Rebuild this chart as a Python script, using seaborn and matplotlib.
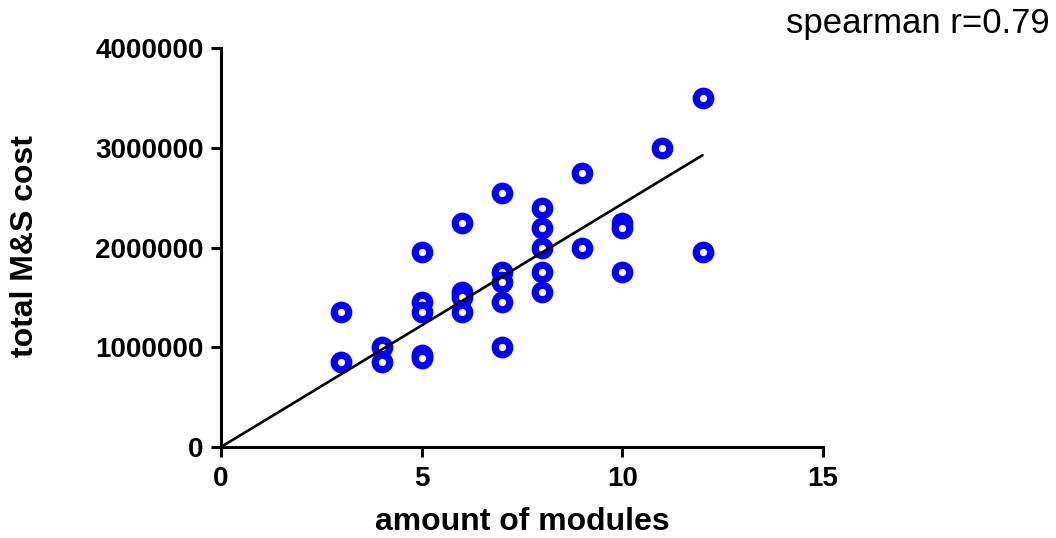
import numpy as np
import pandas as pd
import matplotlib
matplotlib.use("Agg")
import matplotlib.pyplot as plt
import seaborn as sns

modules = [3, 3, 4, 4, 5, 5, 5, 5, 5, 6, 6, 6, 6, 7, 7, 7, 7, 7,
           8, 8, 8, 8, 8, 9, 9, 10, 10, 10, 11, 12, 12]
cost = [1350000, 850000, 1000000, 850000,
        1950000, 1450000, 1350000, 925000, 890000,
        2250000, 1550000, 1500000, 1350000,
        2550000, 1750000, 1650000, 1450000, 1000000,
        2400000, 2200000, 2000000, 1750000, 1550000,
        2750000, 2000000,
        2250000, 2200000, 1750000,
        3000000,
        3500000, 1950000]
x_ticks = [0, 5, 10, 15]
y_ticks = [0, 1000000, 2000000, 3000000, 4000000]
annotation = "spearman r=0.79"

sns.set_style("ticks")
plt.rcParams['font.family'] = ['Liberation Sans', 'DejaVu Sans']
plt.rcParams.update({'text.color': 'black', 'axes.labelcolor': 'black',
                     'xtick.color': 'black', 'ytick.color': 'black',
                     'axes.edgecolor': 'black'})

df = pd.DataFrame({"modules": modules, "cost": cost})

fig = plt.figure(figsize=(10.56, 5.38), dpi=100)
ax = fig.add_axes([221/1056, 91/538, (823-221)/1056, (447-48)/538])

# regression through origin
xa = np.array(modules, dtype=float)
ya = np.array(cost, dtype=float)
slope = (xa * ya).sum() / (xa * xa).sum()
xl = np.array([0, max(modules)], dtype=float)
ax.plot(xl, slope * xl, color='black', lw=1.9, zorder=3)

sns.scatterplot(data=df, x="modules", y="cost", ax=ax, marker='o', s=110,
                facecolor='white', edgecolor='#0000ff', linewidth=5.2,
                zorder=2, legend=False)

ax.set_xlim(0, 15)
ax.set_ylim(0, 4000000)
ax.set_xticks(x_ticks)
ax.set_yticks(y_ticks)
ax.set_xticklabels([str(t) for t in x_ticks])
ax.set_yticklabels([str(t) for t in y_ticks])
for lab in ax.get_xticklabels() + ax.get_yticklabels():
    lab.set_fontweight('bold')
    lab.set_fontsize(20)
ax.tick_params(axis='both', direction='out', length=7.5, width=2.2)
ax.tick_params(axis='x', pad=6)
ax.tick_params(axis='y', pad=5)
for s in ['left', 'bottom']:
    ax.spines[s].set_linewidth(2.2)
sns.despine(ax=ax)

ax.set_xlabel("amount of modules", fontsize=23, fontweight='bold', va='baseline')
ax.xaxis.set_label_coords(0.5, (447 - 530) / 399)
ax.set_ylabel("total M&S cost", fontsize=23, fontweight='bold', va='baseline')
ax.yaxis.set_label_coords((33 - 221) / 602, 0.504)

fig.text(1050/1056, 1 - 33/538, annotation, ha='right', va='baseline', fontsize=25)

fig.savefig("out.png", dpi=100)
